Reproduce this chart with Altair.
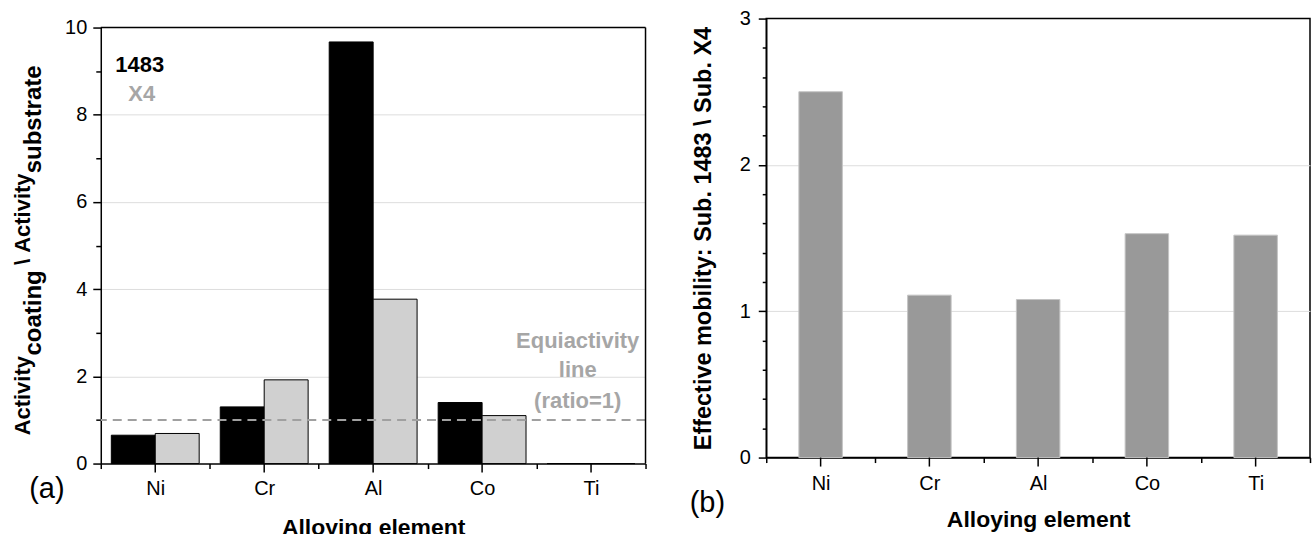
import altair as alt
import pandas as pd

# ---------------- data ----------------
elements = ["Ni", "Cr", "Al", "Co", "Ti"]
series = ["1483", "X4"]
ratio_1483 = [0.65, 1.30, 9.67, 1.40, 0.0]
ratio_x4 = [0.69, 1.92, 3.77, 1.10, 0.0]
mobility = [2.50, 1.11, 1.08, 1.53, 1.52]
series_colors = ["#000000", "#d0d0d0"]
left_tick_values = [i * 0.5 for i in range(21)]
right_tick_values = [round(i * 0.2, 1) for i in range(16)]
equi_text = ["Equiactivity", "line", "(ratio=1)"]

FONT = "Liberation Sans"
W1, H1 = 546, 446      # panel (a) group; its y range starts 9 px below the top
TOP1 = 9
W2, H2 = 545, 440
GRAY_TXT = "#a6a6a6"

df_a = pd.DataFrame({
    "element": elements * 2,
    "series": [series[0]] * len(elements) + [series[1]] * len(elements),
    "value": ratio_1483 + ratio_x4,
})
df_b = pd.DataFrame({"element": elements, "value": mobility})
df_el = pd.DataFrame({"element": elements})
one = pd.DataFrame({"k": [0]})


def txt(text, x, y, size=22, weight="bold", color="black", angle=0,
        align="center", baseline="middle"):
    return alt.Chart(one).mark_text(
        text=text, font=FONT, fontSize=size, fontWeight=weight, color=color,
        angle=angle, align=align, baseline=baseline,
    ).encode(x=alt.value(x), y=alt.value(y))


x_axis_common = dict(
    tickBand="extent", tickSize=5, tickColor="black", tickWidth=1.5,
    domainColor="black", domainWidth=1.5, labelFont=FONT, labelFontSize=20,
    labelColor="black", labelAngle=0, titleFont=FONT, titleFontSize=23,
    titleFontWeight="bold", titleColor="black", grid=False,
)

# ---------------- panel (a) ----------------
xa = alt.X("element:N", sort=elements,
           scale=alt.Scale(paddingInner=0, paddingOuter=0),
           axis=alt.Axis(title="Alloying element", labelPadding=10,
                         titlePadding=18, **x_axis_common))

ya = alt.Y("value:Q", scale=alt.Scale(domain=[0, 10], nice=False, range=[H1, TOP1]),
           axis=alt.Axis(
               title=None, values=left_tick_values,
               labelExpr="datum.value % 2 == 0 ? datum.label : ''",
               tickSize={"condition": {"test": "datum.value % 2 == 0", "value": 8}, "value": 5},
               tickColor="black", tickWidth=1.5, domainColor="black", domainWidth=1.5,
               labelFont=FONT, labelFontSize=20, labelColor="black", labelPadding=6,
               grid=True, gridColor="#dddddd", gridWidth=1,
               gridOpacity={"condition": {"test": "datum.value % 2 == 0 && datum.value > 0 && datum.value < 10", "value": 1}, "value": 0},
           ))

bars_a = alt.Chart(df_a).mark_bar(stroke="black", strokeWidth=1).encode(
    x=xa, y=ya,
    xOffset=alt.XOffset("series:N", sort=series,
                        scale=alt.Scale(paddingInner=0, paddingOuter=0.24)),
    color=alt.Color("series:N", sort=series,
                    scale=alt.Scale(domain=series, range=series_colors), legend=None),
)

equi_rule = alt.Chart(one).mark_rule(color="#a0a0a0", strokeWidth=2, strokeDash=[9, 6]).encode(
    y=alt.datum(1)
)

frame_top = alt.Chart(one).mark_rule(color="black", strokeWidth=1.5).encode(y=alt.datum(10))
frame_right = alt.Chart(one).mark_rule(color="black", strokeWidth=1.5).encode(
    x=alt.value(W1), y=alt.datum(0), y2=alt.datum(10)
)

center_ticks_a = alt.Chart(df_el).mark_rule(color="black", strokeWidth=1.5).encode(
    x=alt.X("element:N", sort=elements), y=alt.value(H1), y2=alt.value(H1 + 9)
)

left = alt.layer(
    bars_a, equi_rule, frame_top, frame_right, center_ticks_a,
    txt(series[0], 39, 47, color="black"),
    txt(series[1], 41, 76, color=GRAY_TXT),
    txt(equi_text[0], 478, 323, color=GRAY_TXT),
    txt(equi_text[1], 478, 352, color=GRAY_TXT),
    txt(equi_text[2], 478, 383, color=GRAY_TXT),
    # y-axis title with subscripts
    txt("Activity", -71, 378, size=22, angle=270, baseline="alphabetic"),
    txt("coating", -60, 295, size=24, angle=270, baseline="alphabetic"),
    txt("\\", -71, 244, size=22, angle=270, baseline="alphabetic"),
    txt("Activity", -71, 195, size=22, angle=270, baseline="alphabetic"),
    txt("substrate", -60, 101, size=24, angle=270, baseline="alphabetic"),
    txt("(a)", -54, 472, size=29, weight="normal"),
).properties(width=W1, height=H1, view=alt.ViewBackground(strokeOpacity=0))

# ---------------- panel (b) ----------------
xb = alt.X("element:N", sort=elements,
           scale=alt.Scale(paddingInner=0, paddingOuter=0),
           axis=alt.Axis(title="Alloying element", labelPadding=11,
                         titlePadding=15, **x_axis_common))

yb = alt.Y("value:Q", scale=alt.Scale(domain=[0, 3], nice=False),
           axis=alt.Axis(
               title="Effective mobility: Sub. 1483 \\  Sub. X4",
               titleFont=FONT, titleFontSize=23.5, titleFontWeight="bold",
               titleColor="black", titlePadding=24,
               values=right_tick_values,
               labelExpr="abs(datum.value - round(datum.value)) < 0.001 ? format(datum.value, 'd') : ''",
               tickSize={"condition": {"test": "abs(datum.value - round(datum.value)) < 0.001", "value": 8}, "value": 4},
               tickColor="black", tickWidth=1.5, domainColor="black", domainWidth=1.5,
               labelFont=FONT, labelFontSize=20, labelColor="black", labelPadding=8,
               grid=True, gridColor="#dddddd", gridWidth=1,
               gridOpacity={"condition": {"test": "abs(datum.value - round(datum.value)) < 0.001 && datum.value > 0 && datum.value < 3", "value": 1}, "value": 0},
           ))

bars_b = alt.Chart(df_b).mark_bar(
    width=alt.RelativeBandSize(0.4), color="#999999", stroke="#c4c4c4", strokeWidth=1
).encode(x=xb, y=yb)

center_ticks_b = alt.Chart(df_el).mark_rule(color="black", strokeWidth=1.5).encode(
    x=alt.X("element:N", sort=elements), y=alt.value(H2), y2=alt.value(H2 + 9)
)

right = alt.layer(
    bars_b, center_ticks_b,
    txt("(b)", -59, 486, size=29, weight="normal"),
).properties(width=W2, height=H2)

chart = alt.hconcat(left, right, spacing=42).properties(
    padding={"left": 12, "top": 7, "right": 0, "bottom": 0}
).configure_view(stroke="black", strokeWidth=1.5)

chart.save("out.html", embed_options={"renderer": "svg", "actions": False})
